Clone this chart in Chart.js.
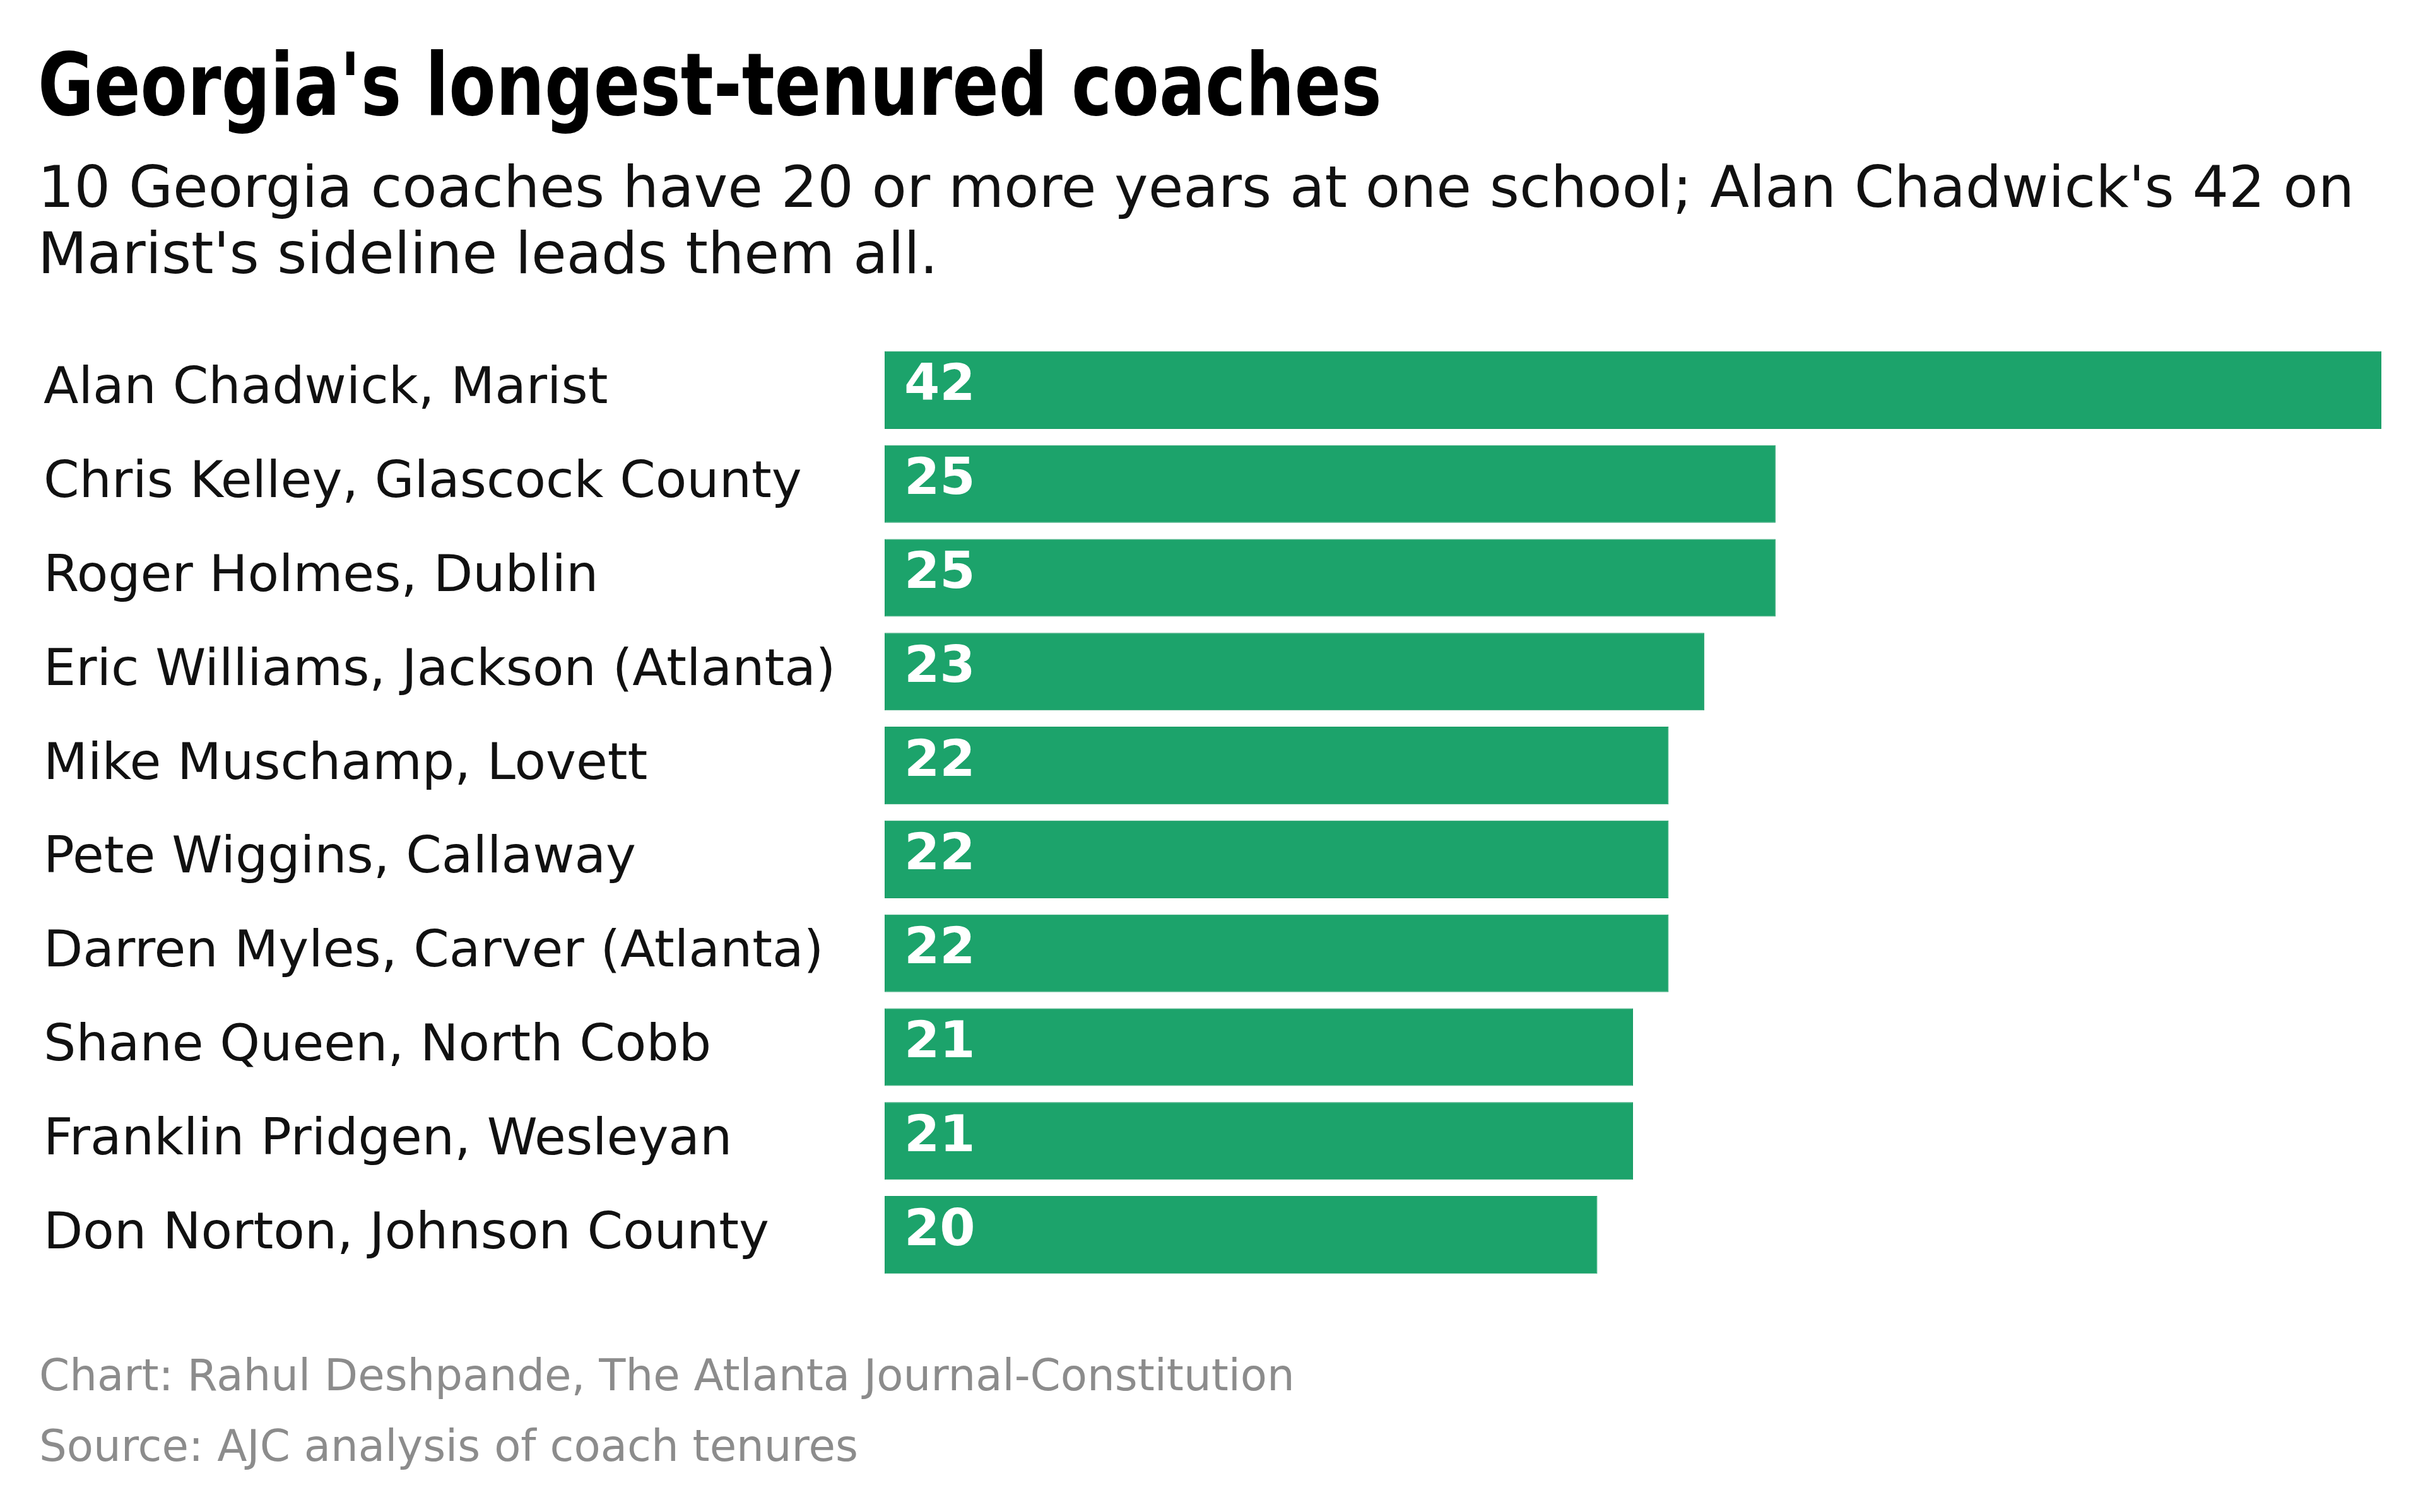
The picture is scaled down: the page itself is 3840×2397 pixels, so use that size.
<!DOCTYPE html>
<html>
<head>
<meta charset="utf-8">
<script src="https://cdn.jsdelivr.net/npm/chart.js@4/dist/chart.umd.min.js"></script>
<style>
  html, body { margin: 0; padding: 0; background: #fff; }
  #page { position: relative; width: 3840px; height: 2397px; overflow: hidden; }
  .title {
    position: absolute; left: 60px; top: 66px;
    font: bold 137px/1 "DejaVu Sans Condensed", "DejaVu Sans", sans-serif;
    color: #000; white-space: nowrap;
    transform: scaleX(0.88); transform-origin: 0 0;
  }
  .subtitle {
    position: absolute; left: 60px; top: 244px; width: 3760px;
    font: 90.5px/105px "DejaVu Sans", sans-serif; color: #111; white-space: nowrap;
  }
  .note {
    position: absolute; left: 62px;
    font: 69px/1 "DejaVu Sans", sans-serif; color: #8c8c8c; white-space: nowrap;
  }
  #chartBox { position: absolute; left: 0; top: 544px; width: 3840px; height: 1488px; }
</style>
</head>
<body>
<div id="page">
  <div class="title">Georgia's longest-tenured coaches</div>
  <div class="subtitle">10 Georgia coaches have 20 or more years at one school; Alan Chadwick's 42 on<br>Marist's sideline leads them all.</div>
  <div id="chartBox"><canvas id="chart"></canvas></div>
  <div class="note" style="top:2146px">Chart: Rahul Deshpande, The Atlanta Journal-Constitution</div>
  <div class="note" style="top:2258px">Source: AJC analysis of coach tenures</div>
</div>
<script>
// coach, school
const coaches = [
  'Alan Chadwick, Marist',
  'Chris Kelley, Glascock County',
  'Roger Holmes, Dublin',
  'Eric Williams, Jackson (Atlanta)',
  'Mike Muschamp, Lovett',
  'Pete Wiggins, Callaway',
  'Darren Myles, Carver (Atlanta)',
  'Shane Queen, North Cobb',
  'Franklin Pridgen, Wesleyan',
  'Don Norton, Johnson County'
];
// years at one school
const years = [42, 25, 25, 23, 22, 22, 22, 21, 21, 20];

const GREEN = '#1ca36b';

// white numbers at the start of each bar
const valueLabels = {
  id: 'valueLabels',
  afterDatasetsDraw(chart) {
    const ctx = chart.ctx;
    const meta = chart.getDatasetMeta(0);
    ctx.save();
    ctx.fillStyle = '#fff';
    ctx.font = 'bold 81px "DejaVu Sans", sans-serif';
    ctx.textAlign = 'left';
    ctx.textBaseline = 'middle';
    meta.data.forEach((bar, i) => {
      ctx.fillText(String(years[i]), bar.base + 31, bar.y - 5);
    });
    ctx.restore();
  }
};

new Chart(document.getElementById('chart'), {
  type: 'bar',
  data: {
    labels: coaches,
    datasets: [{
      data: years,
      backgroundColor: GREEN,
      borderColor: '#199a63',
      borderWidth: 1,
      borderSkipped: false,
      categoryPercentage: 1,
      barPercentage: 0.827
    }]
  },
  options: {
    indexAxis: 'y',
    responsive: true,
    maintainAspectRatio: false,
    animation: false,
    devicePixelRatio: 1,
    layout: { padding: { left: 69, right: 66, top: 0, bottom: 0 } },
    plugins: { legend: { display: false }, tooltip: { enabled: false } },
    scales: {
      x: { min: 0, max: 42, display: false },
      y: {
        grid: { display: false },
        border: { display: false },
        afterFit(scale) {
          scale.width = 1402 - 69;
          scale.paddingTop = 0;
          scale.paddingBottom = 0;
        },
        ticks: {
          crossAlign: 'far',
          color: '#111',
          font: { family: '"DejaVu Sans", sans-serif', size: 81 }
        }
      }
    }
  },
  plugins: [valueLabels]
});
</script>
</body>
</html>
